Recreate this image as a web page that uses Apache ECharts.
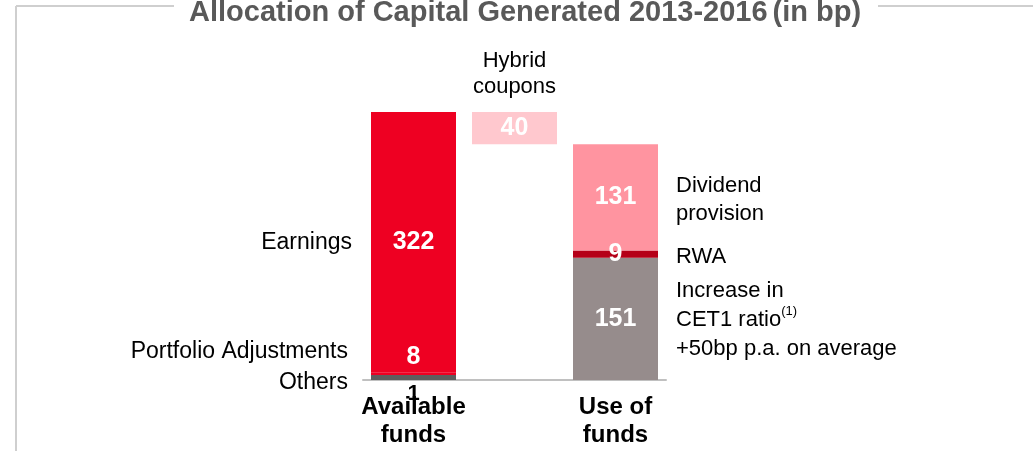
<!DOCTYPE html>
<html>
<head>
<meta charset="utf-8">
<script src="https://cdn.jsdelivr.net/npm/echarts@6/dist/echarts.min.js"></script>
<style>
html,body{margin:0;padding:0;background:#fff;}
#chart{width:1033px;height:451px;}
</style>
</head>
<body>
<div id="chart"></div>
<script>
// ---- data ----
var categories = ['Available funds', 'Hybrid coupons', 'Use of funds'];
var axisLabels = ['Available\nfunds', '', 'Use of\nfunds'];
var baseValues = ['-', 291, '-'];
var others = [1, '-', '-'];
var portfolio = [8, '-', '-'];
var earnings = [322, '-', '-'];
var hybrid = ['-', 40, '-'];
var cet1 = ['-', '-', 151];
var rwa = ['-', '-', 9];
var dividend = ['-', '-', 131];
var yMax = 400;

var FONT = "'Liberation Sans', Arial, sans-serif";
var chart = echarts.init(document.getElementById('chart'), null, {renderer: 'canvas'});

var numLabel = {show: true, position: 'inside', color: '#fff', fontWeight: 'bold', fontSize: 25, fontFamily: FONT};
var BW = 85;

function bar(name, data, color, stack, label, extra) {
  var s = {
    name: name, type: 'bar', stack: stack, data: data, barWidth: BW, barGap: '-100%',
    itemStyle: {color: color}, label: label || {show: false}, silent: true
  };
  for (var k in extra) s[k] = extra[k];
  return s;
}
function sideLabel(text, pos, dist, offset, size, lh, extra) {
  var l = {show: true, position: pos, distance: dist, offset: offset, color: '#000',
    fontSize: size, lineHeight: lh, fontFamily: FONT, formatter: text};
  for (var k in extra) l[k] = extra[k];
  return l;
}
var T = 'transparent';

var option = {
  animation: false,
  backgroundColor: '#fff',
  title: {
    left: 184, top: -7,
    text: '{b|Allocation of Capital Generated 2013-2016} {r|(in bp)}',
    textStyle: {
      rich: {
        b: {fontSize: 29, fontWeight: 'bold', color: '#595959', fontFamily: FONT, lineHeight: 29},
        r: {fontSize: 29, color: '#595959', fontFamily: FONT, lineHeight: 29}
      }
    }
  },
  graphic: [
    {type: 'line', shape: {x1: 16, y1: 6, x2: 174, y2: 6}, style: {stroke: '#CFCFCF', lineWidth: 2}, silent: true},
    {type: 'line', shape: {x1: 878, y1: 6, x2: 1033, y2: 6}, style: {stroke: '#CFCFCF', lineWidth: 2}, silent: true},
    {type: 'line', shape: {x1: 16, y1: 6, x2: 16, y2: 451}, style: {stroke: '#CFCFCF', lineWidth: 2}, silent: true}
  ],
  grid: {left: 363, width: 303, top: 56, bottom: 71, containLabel: false},
  xAxis: {
    type: 'category', data: categories,
    axisTick: {show: false},
    axisLine: {lineStyle: {color: '#C0C0C0', width: 2}},
    axisLabel: {
      interval: 0, margin: 13, color: '#000', fontWeight: 'bold', fontSize: 24, lineHeight: 28, fontFamily: FONT,
      formatter: function (v, i) { return axisLabels[i]; }
    }
  },
  yAxis: {type: 'value', min: 0, max: yMax, show: false},
  series: [
    // visible stack
    bar('base', baseValues, T, 'main'),
    bar('Others', others, '#5E5E5E', 'main',
      {show: true, position: 'bottom', distance: 0, offset: [0, 3], color: '#000', fontWeight: 'bold', fontSize: 22, fontFamily: FONT},
      {barMinHeight: 5, z: 3}),
    bar('Portfolio Adjustments', portfolio, '#EE0022', 'main',
      {show: true, position: 'top', distance: 3, color: '#fff', fontWeight: 'bold', fontSize: 25, fontFamily: FONT}),
    bar('Earnings', earnings, '#EE0022', 'main', numLabel),
    bar('Hybrid coupons', hybrid, '#FFC8CE', 'main', numLabel),
    bar('CET1', cet1, '#968C8C', 'main', numLabel),
    bar('RWA', rwa, '#B50018', 'main', numLabel),
    bar('Dividend provision', dividend, '#FF94A0', 'main', numLabel),
    // annotation stack (transparent, carries side texts)
    bar('a-base', baseValues, T, 'ann'),
    bar('a-others', others, T, 'ann', sideLabel('Others', 'left', 23, [0, 3], 23, 26)),
    bar('a-portfolio', portfolio, T, 'ann', sideLabel('Portfolio Adjustments', 'left', 23, [0, -24], 23, 26)),
    bar('a-earnings', earnings, T, 'ann', sideLabel('Earnings', 'left', 19, [0, 0], 23, 26)),
    bar('a-hybrid', hybrid, T, 'ann', sideLabel('Hybrid\ncoupons', 'top', 12, [0, 0], 22, 26, {align: 'center'})),
    bar('a-cet1', cet1, T, 'ann', sideLabel('Increase in\n{t|CET1 ratio}{s|(1)}\n+50bp p.a. on average', 'right', 18, [0, 1], 22, 29,
      {rich: {t: {fontSize: 22, fontFamily: FONT, color: '#000', lineHeight: 29},
              s: {fontSize: 13, fontFamily: FONT, color: '#000', verticalAlign: 'top', lineHeight: 18}}})),
    bar('a-rwa', rwa, T, 'ann', sideLabel('RWA', 'right', 18, [0, 3], 22, 26)),
    bar('a-dividend', dividend, T, 'ann', sideLabel('Dividend\nprovision', 'right', 18, [0, 3], 22, 28))
  ]
};
chart.setOption(option);
</script>
</body>
</html>
